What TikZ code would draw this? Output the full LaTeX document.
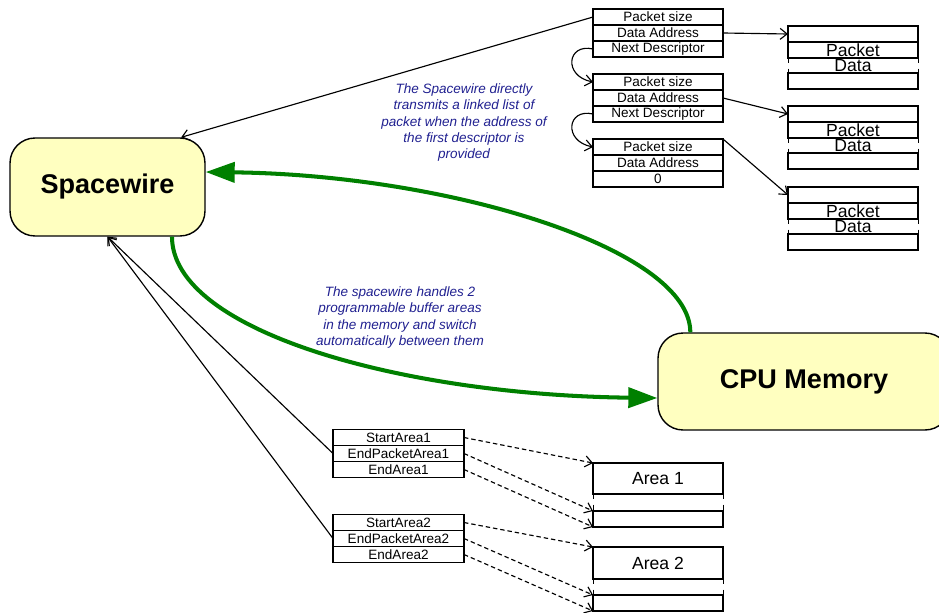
\documentclass[tikz,border=0pt]{standalone}
\usepackage{fontspec}
\setmainfont{Liberation Sans}
\usetikzlibrary{positioning}
\usetikzlibrary{arrows.meta}
\definecolor{boxyellow}{RGB}{255,255,192}
\definecolor{flowgreen}{RGB}{0,128,0}
\definecolor{noteblue}{RGB}{32,32,144}

\begin{document}
\begin{tikzpicture}[x=0.02cm, y=-0.02cm, node distance=0pt,
    unit/.style = {draw, rounded corners=0.5cm, fill=boxyellow, line width=0.8pt, font=\fontsize{15.4}{18}\selectfont\bfseries},
    cell/.style = {draw, line width=0.7pt, minimum width=2.6cm, minimum height=0.32cm, inner sep=0pt, outer sep=0pt, font=\fontsize{7.7}{8}\selectfont},
    store/.style = {cell, font=\fontsize{10}{12}\selectfont},
    gap/.style = {store, draw=none, minimum height=0.3cm},
    link/.style = {line width=0.65pt, -{Straight Barb[length=1.4mm, width=2.2mm]}},
    ptr/.style = {link, dash pattern=on 2.5pt off 1.7pt},
    flow/.style = {line width=2.3pt, flowgreen, -{Triangle[length=5.8mm, width=4mm]}},
    note/.style = {text=noteblue, align=center, font=\fontsize{7.7}{9.2}\selectfont\itshape}]
    \useasboundingbox (0,0) rectangle (939,612);
    \clip (0,0) rectangle (939,612);

    % the two units
    \node[unit, minimum width=3.9cm, minimum height=1.96cm] (sw) at (107.5,187) {Spacewire};
    \node[unit, minimum width=5.84cm, minimum height=1.94cm] (mem) at (804,381.5) {CPU Memory};

    % descriptors
    \node[cell] (d1s) at (658,17) {Packet size};
    \node[cell, below=of d1s] (d1a) {Data Address};
    \node[cell, below=of d1a] (d1n) {Next Descriptor};
    \node[cell] (d2s) at (658,82) {Packet size};
    \node[cell, below=of d2s] (d2a) {Data Address};
    \node[cell, below=of d2a] (d2n) {Next Descriptor};
    \node[cell] (d3s) at (658,147) {Packet size};
    \node[cell, below=of d3s] (d3a) {Data Address};
    \node[cell, below=of d3a] (d3n) {0};

    % packet data
    \node[store] (p1a) at (853,34) {};
    \node[store, below=of p1a] (p1b) {\raisebox{-2pt}{Packet}};
    \node[gap, below=of p1b] (p1c) {\raisebox{-1.2pt}{Data}};
    \node[store, below=of p1c] (p1d) {};
    \node[store] (p2a) at (853,114) {};
    \node[store, below=of p2a] (p2b) {\raisebox{-2pt}{Packet}};
    \node[gap, below=of p2b] (p2c) {\raisebox{-1.2pt}{Data}};
    \node[store, below=of p2c] (p2d) {};
    \node[store] (p3a) at (853,195) {};
    \node[store, below=of p3a] (p3b) {\raisebox{-2pt}{Packet}};
    \node[gap, below=of p3b] (p3c) {\raisebox{-1.2pt}{Data}};
    \node[store, below=of p3c] (p3d) {};
    \draw[dashed] (p1c.north west) -- (p1c.south west) (p1c.north east) -- (p1c.south east);
    \draw[dashed] (p2c.north west) -- (p2c.south west) (p2c.north east) -- (p2c.south east);
    \draw[dashed] (p3c.north west) -- (p3c.south west) (p3c.north east) -- (p3c.south east);

    % buffer registers
    \node[cell, minimum width=2.62cm] (s1) at (398.5,437.5) {StartArea1};
    \node[cell, minimum width=2.62cm, below=of s1] (e1p) {EndPacketArea1};
    \node[cell, minimum width=2.62cm, below=of e1p] (e1) {EndArea1};
    \node[cell, minimum width=2.62cm] (s2) at (398.5,522.5) {StartArea2};
    \node[cell, minimum width=2.62cm, below=of s2] (e2p) {EndPacketArea2};
    \node[cell, minimum width=2.62cm, below=of e2p] (e2) {EndArea2};

    % buffer areas
    \node[store, minimum height=0.62cm] (a1) at (658,478.5) {Area 1};
    \node[gap, minimum height=0.34cm, below=of a1] (a1g) {};
    \node[store, below=of a1g] (a1e) {};
    \node[store, minimum height=0.64cm] (a2) at (658,563) {Area 2};
    \node[gap, minimum height=0.32cm, below=of a2] (a2g) {};
    \node[store, below=of a2g] (a2e) {};
    \draw[dashed] (a1g.north west) -- (a1g.south west) (a1g.north east) -- (a1g.south east);
    \draw[dashed] (a2g.north west) -- (a2g.south west) (a2g.north east) -- (a2g.south east);

    % notes
    \node[note] (n1) at (464,122.5) {The Spacewire directly\\transmits a linked list of\\packet when the address of\\the first descriptor is\\provided};
    \node[note] (n2) at (400,317.5) {The spacewire handles 2\\programmable buffer areas\\in the memory and switch\\automatically between them};

    % links
    \draw[link] (d1s.west) -- (sw.34);
    \draw[link] (d1a.east) -- (p1a.west);
    \draw[link] (d2a.east) -- (p2a.west);
    \draw[link] (d3s.north east) -- (p3a.west);
    \draw[link] (d1n.west) .. controls +(-26,-6) and +(-30,-6) .. (d2s.west);
    \draw[link] (d2n.west) .. controls +(-26,-6) and +(-30,-6) .. (d3s.west);
    \draw[link] (e1p.west) -- (sw.south);
    \draw[link] (e2p.west) -- (sw.south);
    \draw[ptr] (s1.east) -- (a1.north west);
    \draw[ptr] (e1p.east) -- (a1e.north west);
    \draw[ptr] (e1.east) -- (a1e.south west);
    \draw[ptr] (s2.east) -- (a2.north west);
    \draw[ptr] (e2p.east) -- (a2e.north west);
    \draw[ptr] (e2.east) -- (a2e.south west);

    % transfers
    \draw[flow] ([xshift=0.66cm]mem.north west) .. controls +(0,-83) and +(245,3) .. ([yshift=0.3cm]sw.east);
    \draw[flow] ([xshift=1.29cm]sw.south) .. controls +(0,94) and +(-257,-3) .. ([yshift=-0.33cm]mem.west);
\end{tikzpicture}
\end{document}
